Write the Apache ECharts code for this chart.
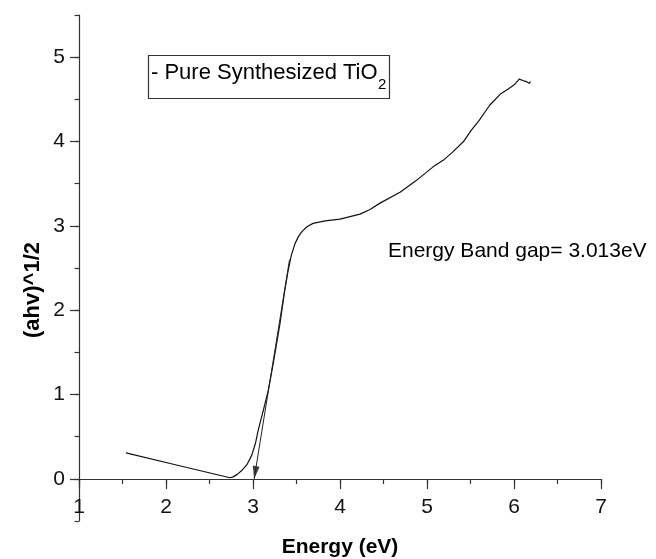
<!DOCTYPE html>
<html>
<head>
<meta charset="utf-8">
<style>html,body{margin:0;padding:0;background:#fff;}#c{width:656px;height:559px;}</style>
<script src="https://cdn.jsdelivr.net/npm/echarts@6/dist/echarts.min.js"></script>
</head>
<body>
<div id="c"></div>
<script>
// Curve data
var energy = [1.54, 2.12, 2.736, 2.77, 2.82, 2.87, 2.93, 2.985, 3.03, 3.06, 3.12, 3.176, 3.233, 3.31, 3.36, 3.40, 3.44, 3.483, 3.52, 3.56, 3.62, 3.69, 3.83, 4.0, 4.23, 4.345, 4.46, 4.69, 4.88, 5.07, 5.19, 5.30, 5.42, 5.51, 5.60, 5.72, 5.84, 5.93, 6.01, 6.06, 6.11, 6.145, 6.175, 6.19];
var values = [0.31, 0.166, 0.015, 0.025, 0.055, 0.10, 0.17, 0.28, 0.43, 0.58, 0.82, 1.05, 1.37, 1.84, 2.2, 2.45, 2.65, 2.79, 2.87, 2.93, 2.99, 3.03, 3.06, 3.08, 3.14, 3.195, 3.27, 3.40, 3.54, 3.70, 3.78, 3.88, 4.0, 4.135, 4.25, 4.43, 4.56, 4.62, 4.68, 4.74, 4.72, 4.71, 4.69, 4.71];
// Tangent line (band gap extrapolation)
var tangentX = [3.42, 3.013];
var tangentY = [2.6, 0];
var arrowHead = [3.025, 0.076];
// Tick labels
var xTicks = [1, 2, 3, 4, 5, 6, 7];
var yTicks = [0, 1, 2, 3, 4, 5];
var legendText = '- Pure Synthesized TiO';
var legendSub = '2';
var noteText = 'Energy Band gap= 3.013eV';
var xTitle = 'Energy (eV)';
var yTitle = '(ahv)^1/2';

var FONT = 'Liberation Sans, Arial, sans-serif';
var AX = '#333';

var curve = energy.map(function (e, i) { return [e, values[i]]; });
var tangent = tangentX.map(function (e, i) { return [e, tangentY[i]]; });

var chart = echarts.init(document.getElementById('c'), null, {renderer: 'canvas'});
chart.setOption({
  animation: false,
  backgroundColor: '#fff',
  grid: [
    {left: 79, right: 55, top: 15, bottom: 38, outerBoundsMode: 'none'},
    {left: 79, right: 55, top: 15, bottom: 80, outerBoundsMode: 'none'}
  ],
  xAxis: [{
    gridIndex: 0, type: 'value', min: 1, max: 7, show: false
  }, {
    gridIndex: 1, type: 'value', min: 1, max: 7, interval: 0.5, position: 'bottom',
    axisLine: {show: true, onZero: false, lineStyle: {color: AX, width: 1.2}},
    axisTick: {show: true, inside: false, length: 5, lineStyle: {color: AX, width: 1.2}},
    axisLabel: {customValues: xTicks, margin: 18, color: '#111', fontSize: 21, fontFamily: FONT},
    splitLine: {show: false}
  }, {
    gridIndex: 1, type: 'value', min: 1, max: 7, position: 'bottom', offset: 0,
    axisLine: {show: false, onZero: false},
    axisTick: {show: true, customValues: xTicks, length: 10, lineStyle: {color: AX, width: 1.2}},
    axisLabel: {show: false},
    splitLine: {show: false}
  }],
  yAxis: [{
    gridIndex: 0, type: 'value', min: -0.5, max: 5.5, interval: 0.5,
    axisLine: {show: true, onZero: false, lineStyle: {color: AX, width: 1.2}},
    axisTick: {show: true, length: 4.5, lineStyle: {color: AX, width: 1.2}},
    axisLabel: {customValues: yTicks, margin: 14, color: '#111', fontSize: 21, fontFamily: FONT},
    splitLine: {show: false}
  }, {
    gridIndex: 0, type: 'value', min: -0.5, max: 5.5, position: 'left', offset: 0,
    axisLine: {show: false, onZero: false},
    axisTick: {show: true, customValues: yTicks, length: 9, lineStyle: {color: AX, width: 1.2}},
    axisLabel: {show: false},
    splitLine: {show: false}
  }, {
    gridIndex: 1, type: 'value', min: 0, max: 5.5, show: false
  }],
  series: [{
    type: 'line', data: curve, xAxisIndex: 1, yAxisIndex: 2,
    showSymbol: false, symbol: 'none', smooth: false,
    lineStyle: {color: '#111', width: 1.2}
  }, {
    type: 'line', data: tangent, xAxisIndex: 1, yAxisIndex: 2,
    showSymbol: false, symbol: 'none',
    lineStyle: {color: '#222', width: 1}
  }, {
    type: 'scatter', data: [arrowHead], xAxisIndex: 1, yAxisIndex: 2,
    symbol: 'triangle', symbolSize: [7, 13], symbolRotate: 171,
    itemStyle: {color: '#111'}
  }],
  graphic: [
    {type: 'rect', shape: {x: 148.5, y: 55.5, width: 241, height: 43}, style: {fill: '#fff', stroke: '#333', lineWidth: 1.2}, z: 10},
    {type: 'text', x: 151, y: 73, style: {text: legendText, font: '22px ' + FONT, fill: '#000', textAlign: 'left', textVerticalAlign: 'middle'}, z: 11},
    {type: 'text', x: 378, y: 85, style: {text: legendSub, font: '15px ' + FONT, fill: '#000', textAlign: 'left', textVerticalAlign: 'middle'}, z: 11},
    {type: 'text', x: 388, y: 251, style: {text: noteText, font: '21px ' + FONT, fill: '#000', textAlign: 'left', textVerticalAlign: 'middle'}},
    {type: 'text', x: 340, y: 547, style: {text: xTitle, font: 'bold 21px ' + FONT, fill: '#000', textAlign: 'center', textVerticalAlign: 'middle'}},
    {type: 'text', x: 33, y: 290, rotation: Math.PI / 2, style: {text: yTitle, font: 'bold 22px ' + FONT, fill: '#000', textAlign: 'center', textVerticalAlign: 'middle'}}
  ]
});
</script>
</body>
</html>
